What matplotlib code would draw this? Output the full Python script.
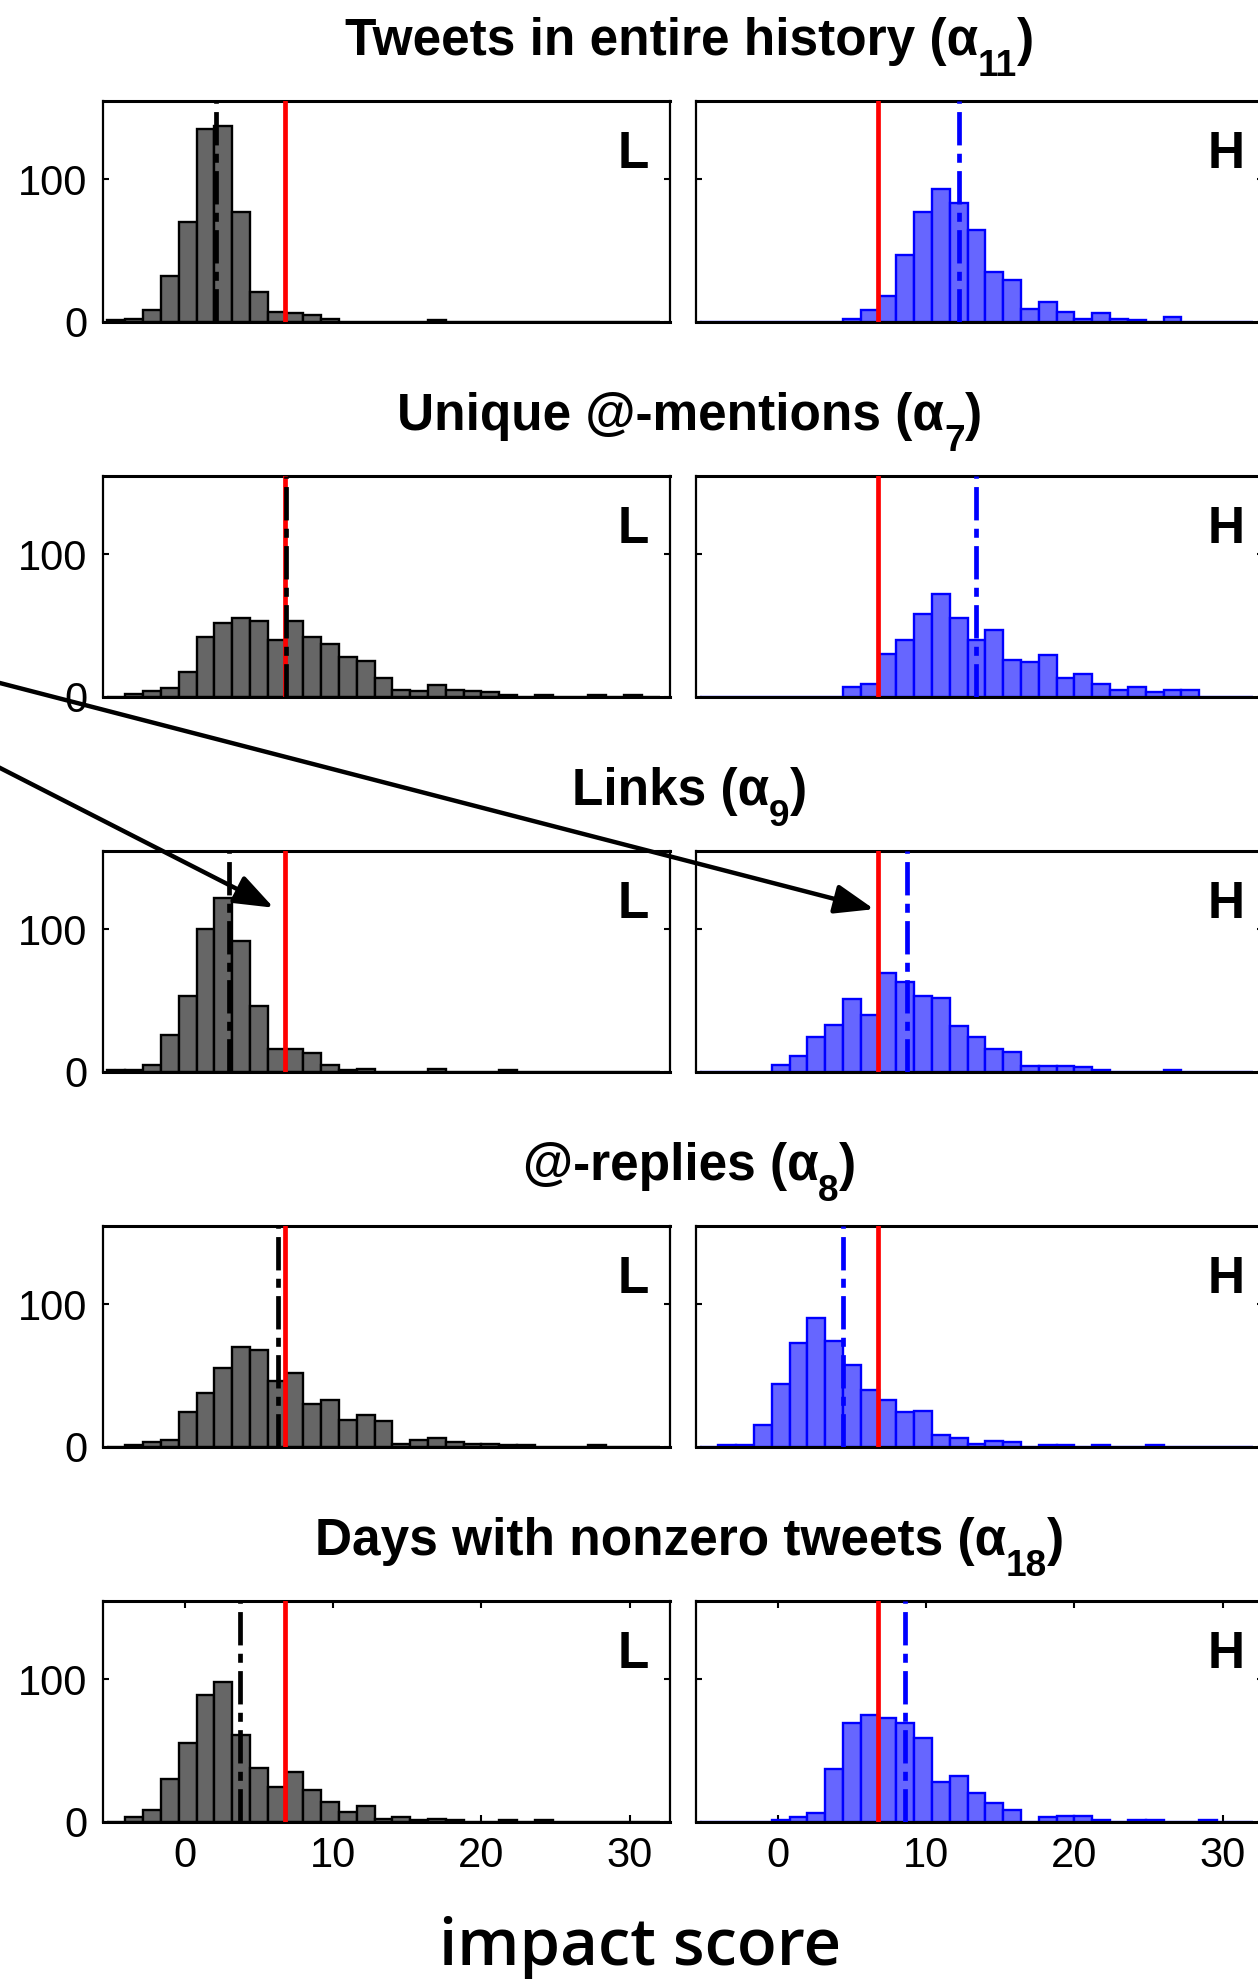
import numpy as np
import matplotlib
matplotlib.use("Agg")
import matplotlib.pyplot as plt
from matplotlib.patches import ConnectionPatch
from matplotlib.transforms import ScaledTranslation

plt.rcParams['font.family'] = ['Liberation Sans', 'DejaVu Sans']
plt.rcParams['lines.scale_dashes'] = False

# ---------------- data ----------------
# (title text, subscript index)
feature_titles = [
    ("Tweets in entire history (α", "11"),
    ("Unique @-mentions (α", "7"),
    ("Links (α", "9"),
    ("@-replies (α", "8"),
    ("Days with nonzero tweets (α", "18"),
]

# common histogram grid (impact score)
bin_start = -5.2
bin_width = 1.2
n_bins = 31

# counts per bin, low-impact group (L)
counts_L_tweets   = [1, 2, 8, 32, 70, 135, 137, 77, 21, 7, 6, 5, 2, 0, 0, 0, 0, 0, 1, 0, 0, 0, 0, 0, 0, 0, 0, 0, 0, 0, 0]
counts_L_mentions = [0, 2, 4, 6, 17, 42, 52, 55, 53, 40, 53, 42, 37, 28, 25, 13, 5, 4, 8, 5, 4, 3, 1, 0, 1, 0, 0, 1, 0, 1, 0]
counts_L_links    = [1, 1, 5, 26, 53, 100, 122, 92, 46, 16, 16, 13, 5, 1, 2, 0, 0, 0, 2, 0, 0, 0, 1, 0, 0, 0, 0, 0, 0, 0, 0]
counts_L_replies  = [0, 1, 3, 5, 24, 38, 55, 70, 68, 46, 52, 30, 33, 19, 22, 18, 2, 5, 6, 3, 2, 2, 1, 1, 0, 0, 0, 1, 0, 0, 0]
counts_L_days     = [0, 3, 8, 30, 55, 89, 98, 61, 38, 24, 35, 22, 14, 7, 11, 2, 3, 1, 2, 1, 0, 0, 1, 0, 1, 0, 0, 0, 0, 0, 0]

# counts per bin, high-impact group (H)
counts_H_tweets   = [0, 0, 0, 0, 0, 0, 0, 0, 2, 8, 18, 47, 77, 93, 83, 64, 35, 29, 9, 14, 7, 2, 6, 2, 1, 0, 3, 0, 0, 0, 0]
counts_H_mentions = [0, 0, 0, 0, 0, 0, 0, 0, 7, 9, 30, 40, 58, 72, 55, 40, 47, 26, 24, 29, 13, 16, 9, 5, 7, 3, 5, 5, 0, 0, 0]
counts_H_links    = [0, 0, 0, 0, 5, 11, 24, 33, 51, 40, 69, 63, 53, 52, 32, 24, 16, 14, 4, 4, 4, 3, 1, 0, 0, 0, 1, 0, 0, 0, 0]
counts_H_replies  = [0, 1, 1, 15, 44, 73, 90, 74, 57, 40, 33, 24, 25, 8, 6, 2, 4, 3, 0, 1, 1, 0, 1, 0, 0, 1, 0, 0, 0, 0, 0]
counts_H_days     = [0, 0, 0, 0, 1, 3, 6, 37, 69, 75, 73, 69, 59, 28, 32, 20, 13, 8, 0, 3, 4, 4, 1, 0, 1, 1, 0, 0, 1, 0, 0]

counts_L = [counts_L_tweets, counts_L_mentions, counts_L_links, counts_L_replies, counts_L_days]
counts_H = [counts_H_tweets, counts_H_mentions, counts_H_links, counts_H_replies, counts_H_days]

# group means (dash-dot) and overall threshold (red)
mean_L = [2.1, 6.85, 3.0, 6.3, 3.7]
mean_H = [12.2, 13.35, 8.7, 4.4, 8.55]
threshold = 6.75

x_ticks = [0, 10, 20, 30]
y_ticks = [0, 100]
x_label = "impact score"

# ---------------- layout ----------------
FIG_W, FIG_H = 1258, 1979
fig = plt.figure(figsize=(FIG_W / 100, FIG_H / 100), dpi=100)
renderer = fig.canvas.get_renderer()

ax_w = 567 / FIG_W
ax_h = 221 / FIG_H
col_left = [103 / FIG_W, 696 / FIG_W]
row_pitch = 375
first_bottom = 321.7

edges = bin_start + bin_width * np.arange(n_bins + 1)

dashdot = (0, (24, 6, 6.5, 6))

styles = {
    'L': dict(face='#666666', edge='black', mean_color='black'),
    'H': dict(face='#6666ff', edge='#0000ff', mean_color='#0000ff'),
}


def subscript_title(x_center, y_base, main, sub, size=37):
    """Bold title with a lowered subscript, centred at x_center (figure fraction)."""
    kw = dict(fontweight='bold', va='baseline', ha='left')
    t_main = fig.text(0, y_base, main, fontsize=size, **kw)
    t_sub = fig.text(0, y_base, sub, fontsize=size * 0.72, **kw)
    t_close = fig.text(0, y_base, ")", fontsize=size, **kw)
    w_main = t_main.get_window_extent(renderer).width
    w_sub = t_sub.get_window_extent(renderer).width
    w_close = t_close.get_window_extent(renderer).width
    total = w_main + w_sub + w_close
    x0 = x_center * FIG_W - total / 2
    t_main.set_x(x0 / FIG_W)
    t_sub.set_x((x0 + w_main) / FIG_W)
    t_sub.set_transform(fig.transFigure + ScaledTranslation(0, -21 / 100, fig.dpi_scale_trans))
    t_close.set_x((x0 + w_main + w_sub) / FIG_W)


axes_rows = []
for i in range(5):
    bottom = 1 - (first_bottom + row_pitch * i) / FIG_H
    row = []
    for j, grp in enumerate(['L', 'H']):
        ax = fig.add_axes([col_left[j], bottom, ax_w, ax_h])
        st = styles[grp]
        counts = counts_L[i] if grp == 'L' else counts_H[i]
        mean = mean_L[i] if grp == 'L' else mean_H[i]
        ax.bar(edges[:-1], counts, width=bin_width, align='edge',
               color=st['face'], edgecolor=st['edge'], linewidth=1.7, zorder=2)
        ax.axvline(threshold, color='#ff0000', lw=3.4, zorder=3)
        ax.axvline(mean, color=st['mean_color'], lw=3.4, linestyle=dashdot, zorder=4)
        ax.set_xlim(-5.5, 32.7)
        ax.set_ylim(0, 155)
        for sp in ax.spines.values():
            sp.set_linewidth(1.6)
        ax.spines['bottom'].set_linewidth(2.2)
        ax.spines['top'].set_linewidth(2.2)
        ax.set_yticks(y_ticks)
        ax.tick_params(axis='y', direction='in', length=4, width=1.5,
                       left=True, right=True, labelsize=30, pad=11,
                       labelleft=(grp == 'L'))
        if i == 4:
            ax.set_xticks(x_ticks)
            ax.tick_params(axis='x', direction='in', length=5, width=1.5,
                           bottom=True, top=True, labelsize=30, pad=10)
        else:
            ax.set_xticks([])
        ax.text(0.963 if grp == 'L' else 0.968, 0.697, grp, transform=ax.transAxes,
                ha='right', va='baseline', fontsize=37, fontweight='bold')
        row.append(ax)
    axes_rows.append(row)

    title_y = 1 - (55 + row_pitch * i) / FIG_H
    subscript_title(0.548, title_y, *feature_titles[i])

fig.text(0.5087, 14 / FIG_H, x_label, ha='center', va='baseline',
         fontsize=47, family='Open Sans', fontweight='semibold')

# arrows pointing at the threshold in the "Links" panels
ax_links_L, ax_links_H = axes_rows[2]
for ax_t, tip, tail in [(ax_links_H, (6.5, 114), (-0.01, 0.6565)),
                        (ax_links_L, (6.0, 115), (-0.01, 0.6152))]:
    con = ConnectionPatch(xyA=tail, coordsA=fig.transFigure,
                          xyB=tip, coordsB=ax_t.transData,
                          arrowstyle='-|>,head_length=24,head_width=9',
                          mutation_scale=1, lw=3.2, color='black',
                          shrinkA=0, shrinkB=0, zorder=10)
    con.set_clip_on(False)
    fig.add_artist(con)

fig.savefig("out.png", dpi=100)
